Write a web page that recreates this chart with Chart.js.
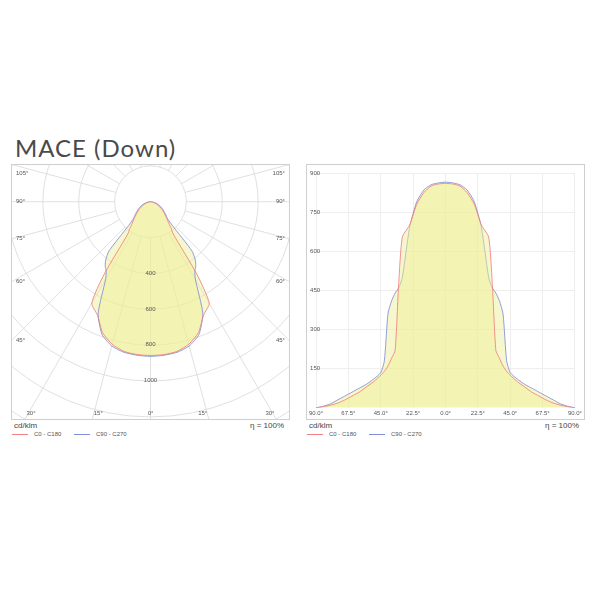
<!DOCTYPE html>
<html><head><meta charset="utf-8">
<script src="https://cdn.jsdelivr.net/npm/chart.js@4"></script>
<style>
body{margin:0;background:#fff;font-family:Arial,"Liberation Sans",sans-serif;}
#wrap{position:relative;width:600px;height:600px;}
.box{position:absolute;border:1px solid #cfcfcf;box-sizing:border-box;}
.t{position:absolute;font-size:8px;color:#444;white-space:nowrap;}
.lg{position:absolute;font-size:6px;color:#555;white-space:nowrap;}
.ln{display:inline-block;width:16px;height:0;border-top:1px solid;vertical-align:middle;margin-right:6px;}
</style></head><body><div id="wrap">
<div style="position:absolute;left:15px;top:133px;font-size:24px;color:#4a4a4a;font-family:Lato;letter-spacing:1px;">MACE (Down)</div>
<div class="box" style="left:11px;top:164px;width:279px;height:256px;"><canvas id="polar"></canvas></div>
<div class="box" style="left:306px;top:164px;width:279px;height:256px;"><canvas id="lin"></canvas></div>
<div class="t" style="left:14px;top:421px;">cd/klm</div>
<div class="t" style="left:250px;top:421px;">η = 100%</div>
<div class="lg" style="left:12px;top:431px;"><span class="ln" style="border-color:#f08080"></span>C0 - C180</div>
<div class="lg" style="left:74px;top:431px;"><span class="ln" style="border-color:#8090d8"></span>C90 - C270</div>
<div class="t" style="left:309px;top:421px;">cd/klm</div>
<div class="t" style="left:545px;top:421px;">η = 100%</div>
<div class="lg" style="left:307px;top:431px;"><span class="ln" style="border-color:#f08080"></span>C0 - C180</div>
<div class="lg" style="left:369px;top:431px;"><span class="ln" style="border-color:#8090d8"></span>C90 - C270</div>
</div>
<script>
// gamma angles (deg) and intensities (cd/klm), one half; mirrored for the other side
var angles = [0, 5, 10, 15, 20, 25, 30, 32.5, 35, 37.5, 40, 42.5, 45, 50, 55, 60, 65, 70, 75, 80, 85, 90];
var c0c180 = [860, 858, 850, 825, 780, 700, 655, 480, 220, 190, 160, 140, 125, 100, 80, 60, 45, 30, 18, 10, 4, 0];
var c90c270 = [865, 862, 855, 835, 790, 690, 500, 460, 440, 410, 360, 180, 135, 110, 90, 75, 60, 45, 30, 15, 6, 0];
var ringLabels = [400, 600, 800, 1000];
var angleLabels = [105, 90, 75, 60, 45];
var bottomLabels = [30, 15, 0];
var linTicks = [150, 300, 450, 600, 750, 900];

var red = "#f07878", blue = "#7888d8";
var fillA = "rgba(238,238,150,0.48)";

function full(vals) {
    var out = [];
    for (var i = angles.length - 1; i > 0; i--) out.push({a: -angles[i], v: vals[i]});
    for (var j = 0; j < angles.length; j++) out.push({a: angles[j], v: vals[j]});
    return out;
}
function toPolar(vals) {
    return full(vals).map(function (p) {
        var r = p.a * Math.PI / 180;
        return {x: p.v * Math.sin(r), y: -p.v * Math.cos(r)};
    });
}
function toLin(vals) {
    return full(vals).map(function (p) { return {x: p.a, y: p.v}; });
}

var polarGrid = {
    id: "polarGrid",
    beforeDatasetsDraw: function (chart) {
        var c = chart.ctx, xs = chart.scales.x, ys = chart.scales.y, a = chart.chartArea;
        var cx = xs.getPixelForValue(0), cy = ys.getPixelForValue(0);
        var k = xs.getPixelForValue(100) - cx;
        c.save();
        c.beginPath(); c.rect(a.left, a.top, a.right - a.left, a.bottom - a.top); c.clip();
        c.strokeStyle = "#d8d8d8"; c.lineWidth = 0.8;
        for (var r = 200; r <= 1800; r += 200) {
            c.beginPath(); c.arc(cx, cy, r * k / 100, 0, Math.PI * 2); c.stroke();
        }
        for (var g = 0; g < 360; g += 15) {
            var t = g * Math.PI / 180;
            c.beginPath();
            c.moveTo(cx + Math.sin(t) * 2 * k, cy + Math.cos(t) * 2 * k);
            c.lineTo(cx + Math.sin(t) * 20 * k, cy + Math.cos(t) * 20 * k);
            c.stroke();
        }
        // fill each closed intensity curve
        c.fillStyle = fillA;
        chart.data.datasets.forEach(function (d, i) {
            var el = chart.getDatasetMeta(i).dataset;
            c.beginPath(); el.path(c); c.closePath(); c.fill();
        });
        c.restore();
    },
    afterDatasetsDraw: function (chart) {
        var c = chart.ctx, xs = chart.scales.x, ys = chart.scales.y, a = chart.chartArea;
        var cx = xs.getPixelForValue(0), cy = ys.getPixelForValue(0);
        c.save();
        c.fillStyle = "#555"; c.font = "6px Arial"; c.textBaseline = "middle";
        c.textAlign = "center";
        ringLabels.forEach(function (v) {
            c.fillText(String(v), cx, ys.getPixelForValue(-v));
        });
        angleLabels.forEach(function (g) {
            var t = (g - 90) * Math.PI / 180;
            var y = Math.max(a.top + 8, cy - Math.tan(t) * (a.right - cx));
            c.textAlign = "left"; c.fillText(g + "°", a.left + 4, y);
            c.textAlign = "right"; c.fillText(g + "°", a.right - 4, y);
        });
        bottomLabels.forEach(function (g) {
            var t = g * Math.PI / 180;
            var dx = Math.tan(t) * (a.bottom - cy);
            var y = a.bottom - 6;
            c.textAlign = "center";
            c.fillText(g + "°", cx - dx + (g ? 6 : 0), y);
            if (g) c.fillText(g + "°", cx + dx - 6, y);
        });
        c.restore();
    }
};

function ds(label, data, color, fill) {
    return {label: label, data: data, borderColor: color, borderWidth: 0.8, pointRadius: 0,
        showLine: true, fill: fill, backgroundColor: fillA, tension: 0.2};
}

new Chart(document.getElementById("polar"), {
    type: "scatter",
    data: {datasets: [ds("C0 - C180", toPolar(c0c180), red, false), ds("C90 - C270", toPolar(c90c270), blue, false)]},
    options: {
        responsive: true, maintainAspectRatio: false, animation: false,
        layout: {padding: 0},
        plugins: {legend: {display: false}, tooltip: {enabled: false}},
        scales: {
            x: {display: false, min: -772, max: 772},
            y: {display: false, min: -1215, max: 205}
        }
    },
    plugins: [polarGrid]
});

new Chart(document.getElementById("lin"), {
    type: "scatter",
    data: {datasets: [ds("C0 - C180", toLin(c0c180), red, "origin"), ds("C90 - C270", toLin(c90c270), blue, "origin")]},
    options: {
        responsive: true, maintainAspectRatio: false, animation: false,
        layout: {padding: {left: 6, right: 7, top: 8, bottom: 0}},
        plugins: {legend: {display: false}, tooltip: {enabled: false}},
        scales: {
            x: {
                min: -90, max: 90,
                afterBuildTicks: function (s) { s.ticks = [-90, -67.5, -45, -22.5, 0, 22.5, 45, 67.5, 90].map(function (v) { return {value: v}; }); },
                grid: {color: "#eeeeee", drawTicks: false},
                border: {display: false},
                ticks: {color: "#555", font: {size: 6}, padding: 2, maxRotation: 0,
                    callback: function (v) { return Math.abs(v).toFixed(1) + "°"; }}
            },
            y: {
                min: 0, max: 900,
                afterBuildTicks: function (s) { s.ticks = linTicks.map(function (v) { return {value: v}; }); },
                grid: {color: "#eeeeee", drawTicks: false},
                border: {display: false},
                ticks: {mirror: true, color: "#555", font: {size: 6}, padding: -2, z: 1}
            }
        }
    }
});
</script></body></html>
